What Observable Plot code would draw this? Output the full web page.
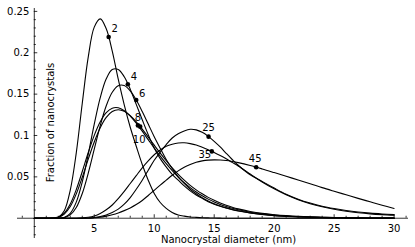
<!DOCTYPE html>
<html><head><meta charset="utf-8">
<script src="https://cdn.jsdelivr.net/npm/d3@7"></script>
<script src="https://cdn.jsdelivr.net/npm/@observablehq/plot@0.6"></script>
<style>body{margin:0;background:#fff}</style>
</head><body><div id="chart"></div>
<script>
// Nanocrystal diameter grid (nm)
const diameter = [0,1,1.5,2,2.5,3,3.5,4,4.5,5,5.5,6,6.5,7,7.5,8,8.5,9,9.5,10,10.5,11,11.5,12,12.5,13,13.5,14,14.5,15,15.5,16,16.5,17,18,19,20,21,22,23,24,25,26,27,28,29,30];

// Series names (labels on the curves)
const seriesNames = ["2","4","6","8","10","25","35","45"];

// Fraction of nanocrystals, one array per series
const f2  = [0,0,0,0.001,0.009,0.034,0.079,0.139,0.195,0.231,0.241,0.229,0.202,0.168,0.137,0.110,0.087,0.065,0.046,0.030,0.019,0.012,0.007,0.004,0.0025,0.0015,0.001,0.0006,0.0004,0.0002,0.0001,0,0,0,0,0,0,0,0,0,0,0,0,0,0,0,0];
const f4  = [0,0,0,0,0.001,0.006,0.0195,0.044,0.0774,0.1137,0.1458,0.1685,0.1797,0.1798,0.171,0.156,0.1376,0.119,0.101,0.085,0.072,0.062,0.053,0.046,0.039,0.033,0.028,0.024,0.020,0.017,0.0145,0.0123,0.0104,0.0088,0.0063,0.0045,0.0032,0.0023,0.0016,0.0011,0.0008,0.0006,0.0004,0.0003,0.0002,0.0001,0.0001];
const f6  = [0,0,0,0,0.0007,0.004,0.0129,0.0299,0.0546,0.0835,0.112,0.1359,0.1522,0.1602,0.1603,0.1539,0.1429,0.129,0.1138,0.0985,0.0845,0.071,0.060,0.050,0.042,0.035,0.0295,0.0248,0.0208,0.0175,0.0148,0.0125,0.0106,0.009,0.0065,0.0046,0.0033,0.0024,0.0017,0.0012,0.0008,0.0006,0.0004,0.0003,0.0002,0.0001,0.0001];
const f8  = [0,0,0.0001,0.0014,0.0062,0.0172,0.0346,0.0565,0.0794,0.1002,0.1166,0.1276,0.133,0.1335,0.13,0.1234,0.1149,0.1052,0.095,0.0848,0.075,0.0659,0.0575,0.0498,0.043,0.037,0.0317,0.0271,0.0231,0.0197,0.0167,0.0142,0.012,0.0102,0.0073,0.0053,0.0038,0.0027,0.002,0.0014,0.001,0.0007,0.00054,0.0004,0.0003,0.0002,0.00016];
const f10 = [0,0,0.0001,0.001,0.0049,0.0141,0.0294,0.0495,0.0715,0.0922,0.1094,0.1218,0.1289,0.1311,0.1292,0.1241,0.1166,0.1077,0.0981,0.0883,0.0786,0.0695,0.0609,0.0531,0.0461,0.0398,0.0343,0.0295,0.0252,0.0216,0.0184,0.0157,0.0133,0.0113,0.0082,0.0059,0.0043,0.0031,0.0022,0.0016,0.0012,0.0008,0.0006,0.0004,0.0003,0.0002,0.0002];
const f25 = [0,0,0,0,0,0,0,0,0.0003,0.0008,0.002,0.004,0.007,0.011,0.017,0.025,0.035,0.046,0.058,0.070,0.080,0.089,0.097,0.102,0.1055,0.1075,0.1068,0.1038,0.099,0.093,0.0862,0.0785,0.071,0.064,0.0525,0.0445,0.0365,0.029,0.023,0.0183,0.0145,0.0117,0.0094,0.0076,0.0062,0.0052,0.0044];
const f35 = [0,0,0,0,0,0,0,0.0004,0.0012,0.0028,0.0058,0.0102,0.016,0.0238,0.0325,0.042,0.0515,0.0609,0.0693,0.0767,0.0824,0.0869,0.0895,0.091,0.0912,0.0902,0.0885,0.0858,0.0828,0.0795,0.0758,0.0718,0.0675,0.0632,0.0535,0.0438,0.0355,0.0283,0.0224,0.0176,0.0138,0.0108,0.0085,0.0067,0.0053,0.0043,0.0036];
const f45 = [0,0,0,0,0,0,0,0,0,0.0005,0.0012,0.0025,0.0042,0.0064,0.0092,0.0125,0.0165,0.0215,0.0275,0.0338,0.040,0.046,0.052,0.0572,0.0615,0.065,0.0677,0.0693,0.0702,0.0705,0.0703,0.0697,0.0686,0.0672,0.0637,0.0596,0.0552,0.0507,0.0462,0.0417,0.0370,0.0326,0.0283,0.0240,0.0199,0.0158,0.0118];

// Labelled marker points on each curve
const markerLabels = ["2","4","6","8","10","25","35","45"];
const markerX = [6.2,7.8,8.5,8.64,8.83,14.53,14.8,18.5];
const markerY = [0.219,0.162,0.1429,0.1122,0.1107,0.0986,0.0808,0.0616];

// Tick values and labels
const xTicks = [5,10,15,20,25,30];
const xTickLabels = ["5","10","15","20","25","30"];
const yTicks = [0.05,0.1,0.15,0.2,0.25];
const yTickLabels = ["0.05","0.1","0.15","0.2","0.25"];

// ---- build tables ----
const seriesValues = [f2,f4,f6,f8,f10,f25,f35,f45];
const rows = seriesValues.flatMap((vals, i) => vals.map((v, j) => ({series: seriesNames[i], d: diameter[j], f: v})));
const markers = markerLabels.map((t, i) => ({label: t, x: markerX[i], y: markerY[i]}));
const xMinor = d3.range(-1, 32, 1).filter(v => v !== 0 && v % 5 !== 0);
const yMinor = d3.range(-2, 26, 1).map(v => v / 100).filter(v => Math.abs(v) > 1e-9 && Math.round(v * 100) % 5 !== 0);

// styles
const labelOffsets = {"2":[6,-8],"4":[6,-7],"6":[6,-6],"8":[0,-8],"10":[-1,13],"25":[0,-9],"35":[-7,3.5],"45":[-1,-8.5]};
const majorY = 0.0042, minorY = 0.0024;   // x-axis tick lengths (y units)
const majorX = 0.29, minorX = 0.17;       // y-axis tick lengths (x units)
const axisStyle = {stroke: "black", strokeWidth: 0.8};

const chart = Plot.plot({
  width: 415, height: 247,
  marginLeft: 17, marginRight: 7, marginTop: 8, marginBottom: 9,
  x: {domain: [-1.4, 31.2], axis: null},
  y: {domain: [-0.0245, 0.2535], axis: null},
  style: {fontFamily: "'DejaVu Sans', sans-serif", fontSize: "10px", background: "white", color: "black"},
  marks: [
    Plot.ruleY([0], axisStyle),
    Plot.ruleX([0], axisStyle),
    Plot.ruleX(xMinor, {x: d => d, y1: 0, y2: minorY, ...axisStyle}),
    Plot.ruleX(xTicks, {x: d => d, y1: 0, y2: majorY, ...axisStyle}),
    Plot.ruleY(yMinor, {y: d => d, x1: 0, x2: minorX, ...axisStyle}),
    Plot.ruleY(yTicks, {y: d => d, x1: 0, x2: majorX, ...axisStyle}),
    Plot.text(xTicks, {x: d => d, y: 0, dy: 10.5, text: (d, i) => xTickLabels[i], fill: "black"}),
    Plot.text(yTicks, {x: 0, y: d => d, dx: -5, textAnchor: "end", text: (d, i) => yTickLabels[i], fill: "black"}),
    Plot.line(rows, {x: "d", y: "f", z: "series", stroke: "black", strokeWidth: 1.1, curve: "catmull-rom"}),
    Plot.dot(markers, {x: "x", y: "y", r: 2.3, fill: "black", stroke: null}),
    ...markers.map(m => Plot.text([m], {x: "x", y: "y", text: "label", dx: labelOffsets[m.label][0], dy: labelOffsets[m.label][1], fill: "black"})),
    Plot.text(["Fraction of nanocrystals"], {frameAnchor: "left", dx: 33, dy: -1, rotate: -90, textAnchor: "middle", lineAnchor: "middle", fill: "black"}),
    Plot.text(["Nanocrystal diameter (nm)"], {frameAnchor: "bottom", dx: 15.5, dy: 1, textAnchor: "middle", lineAnchor: "middle", fill: "black"})
  ]
});
document.getElementById("chart").appendChild(chart);
</script>
</body></html>
